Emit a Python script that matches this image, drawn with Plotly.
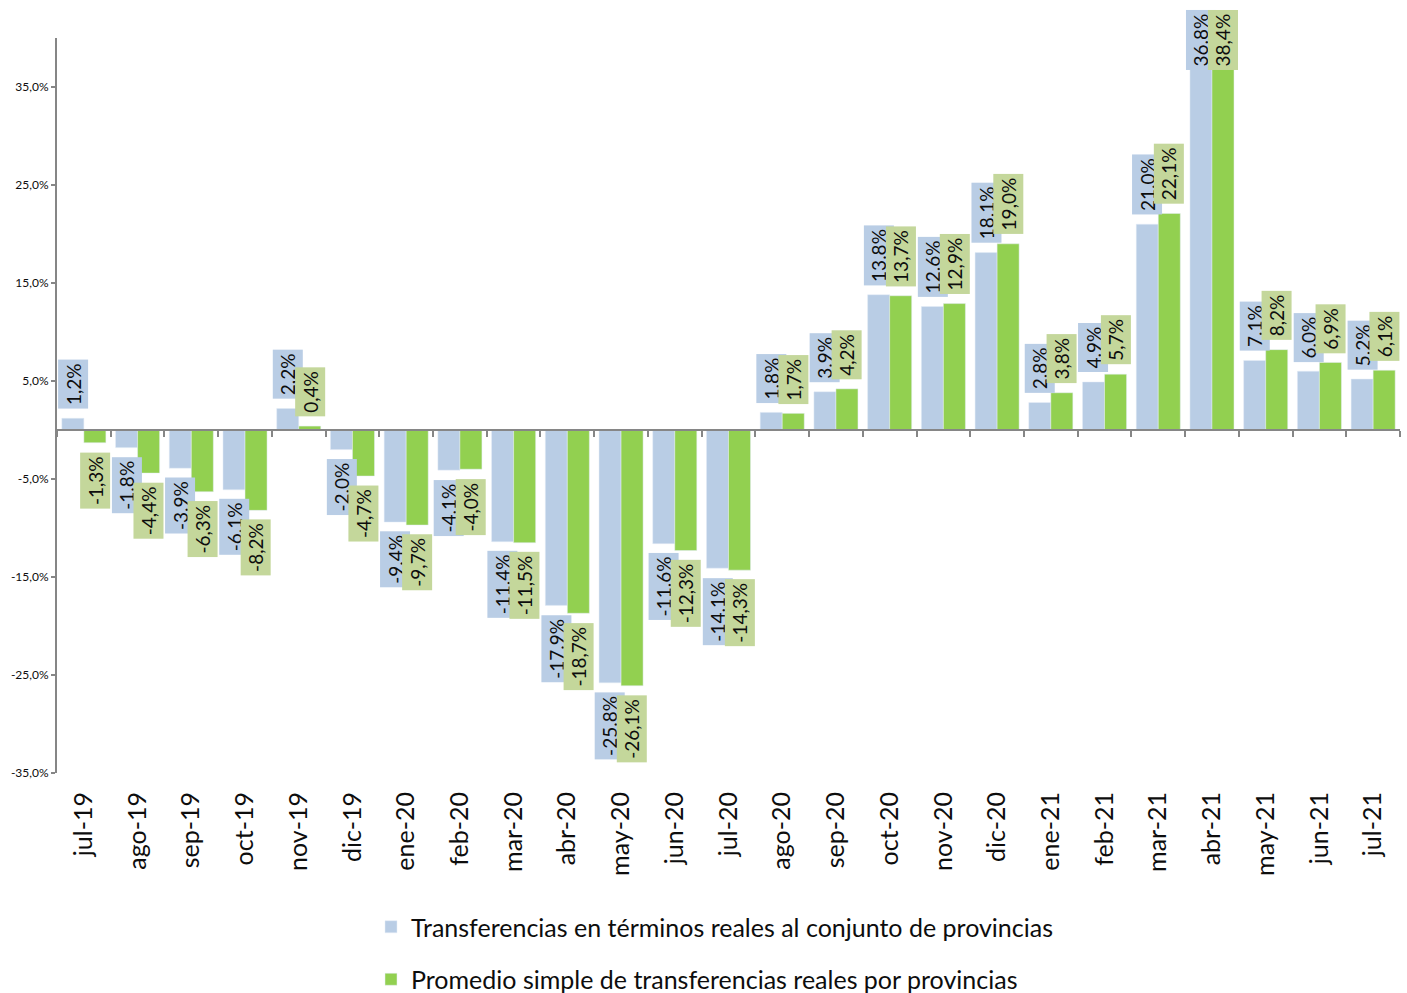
import plotly.graph_objects as go

categories = ["jul-19", "ago-19", "sep-19", "oct-19", "nov-19", "dic-19", "ene-20", "feb-20",
              "mar-20", "abr-20", "may-20", "jun-20", "jul-20", "ago-20", "sep-20", "oct-20",
              "nov-20", "dic-20", "ene-21", "feb-21", "mar-21", "abr-21", "may-21", "jun-21", "jul-21"]

total_real = [1.2, -1.8, -3.9, -6.1, 2.2, -2.0, -9.4, -4.1, -11.4, -17.9, -25.8, -11.6, -14.1,
              1.8, 3.9, 13.8, 12.6, 18.1, 2.8, 4.9, 21.0, 36.8, 7.1, 6.0, 5.2]
promedio = [-1.3, -4.4, -6.3, -8.2, 0.4, -4.7, -9.7, -4.0, -11.5, -18.7, -26.1, -12.3, -14.3,
            1.7, 4.2, 13.7, 12.9, 19.0, 3.8, 5.7, 22.1, 38.4, 8.2, 6.9, 6.1]

total_labels = ["1,2%", "-1.8%", "-3.9%", "-6.1%", "2,2%", "-2.0%", "-9.4%", "-4.1%", "-11.4%",
                "-17.9%", "-25.8%", "-11.6%", "-14.1%", "1.8%", "3.9%", "13.8%", "12.6%",
                "18.1%", "2.8%", "4.9%", "21.0%", "36.8%", "7.1%", "6.0%", "5.2%"]
promedio_labels = ["-1,3%", "-4,4%", "-6,3%", "-8,2%", "0,4%", "-4,7%", "-9,7%", "-4,0%", "-11,5%",
                   "-18,7%", "-26,1%", "-12,3%", "-14,3%", "1,7%", "4,2%", "13,7%", "12,9%",
                   "19,0%", "3,8%", "5,7%", "22,1%", "38,4%", "8,2%", "6,9%", "6,1%"]

y_tickvals = [-35, -25, -15, -5, 5, 15, 25, 35]
y_ticktext = ["-35,0%", "-25,0%", "-15,0%", "-5,0%", "5,0%", "15,0%", "25,0%", "35,0%"]

series_names = ["Transferencias en términos reales al conjunto de provincias",
                "Promedio simple de transferencias reales por provincias"]

# ---- styling / layout
W, H = 1407, 993
ML, MR, MT, MB = 57, 7, 38, 220
Y_MIN, Y_MAX = -35, 40
BARGAP = 0.18
BLUE = "#B9CDE5"
GREEN = "#92D050"
BLUE_LBL = "#B9CDE5"
GREEN_LBL = "#C4D79B"
AXIS_COL = "#868686"
TXT = "#0d0d0d"
FONT = "Lato"
LBL_SIZE = 19
LBL_PAD = 3
LBL_GAP = 9

plot_w = W - ML - MR
plot_h = H - MT - MB
px_per_unit = plot_h / (Y_MAX - Y_MIN)
cat_px = plot_w / len(categories)
bar_off = cat_px * (1 - BARGAP) / 4
chart_top_paper = 1 + (MT - 9) / plot_h      # chart-area top (labels kept inside)
top_limit = Y_MAX + (MT - 9) / px_per_unit

fig = go.Figure()
fig.add_trace(go.Bar(x=categories, y=total_real, name=series_names[0], marker_color=BLUE,
                     legendgroup="a", hoverinfo="skip"))
fig.add_trace(go.Bar(x=categories, y=promedio, name=series_names[1], marker_color=GREEN,
                     legendgroup="b", hoverinfo="skip"))
# invisible helper to draw the category axis at zero
fig.add_trace(go.Scatter(x=categories, y=[0] * len(categories), xaxis="x2", mode="markers",
                         marker=dict(opacity=0), showlegend=False, hoverinfo="skip"))


def est_len_px(t):
    w = 0
    for ch in t:
        if ch.isdigit():
            w += 0.58
        elif ch == "%":
            w += 0.83
        elif ch in ",.":
            w += 0.22
        elif ch == "-":
            w += 0.3
        else:
            w += 0.5
    return w * LBL_SIZE + 2 * LBL_PAD + 2


annotations = []
for vals, labels, sign, bg in [(total_real, total_labels, -1, BLUE_LBL),
                               (promedio, promedio_labels, 1, GREEN_LBL)]:
    for c, v, t in zip(categories, vals, labels):
        a = dict(x=c, xref="x", text=t, showarrow=False, textangle=-90,
                 bgcolor=bg, borderpad=LBL_PAD, xshift=sign * bar_off,
                 font=dict(family=FONT, size=LBL_SIZE, color=TXT))
        if v >= 0:
            top = v + (est_len_px(t) + LBL_GAP) / px_per_unit
            if top > top_limit:
                a.update(yref="paper", y=chart_top_paper, yanchor="top")
            else:
                a.update(yref="y", y=v, yanchor="bottom", yshift=LBL_GAP)
        else:
            a.update(yref="y", y=v, yanchor="top", yshift=-LBL_GAP)
        annotations.append(a)

fig.update_layout(
    width=W, height=H,
    margin=dict(l=ML, r=MR, t=MT, b=MB, autoexpand=False),
    paper_bgcolor="white", plot_bgcolor="white",
    barmode="group", bargap=BARGAP, bargroupgap=0,
    font=dict(family=FONT, color=TXT),
    showlegend=True,
    legend=dict(x=(371 - ML) / plot_w, xanchor="left", y=-(904 - (H - MB)) / plot_h,
                yanchor="top", orientation="v", traceorder="grouped", tracegroupgap=17,
                font=dict(family=FONT, size=25, color=TXT), bgcolor="rgba(0,0,0,0)"),
    xaxis=dict(type="category", categoryarray=categories, range=[-0.5, len(categories) - 0.5],
               showline=False, showgrid=False, zeroline=False, ticks="", automargin=False,
               tickangle=-90, tickfont=dict(family=FONT, size=25, color=TXT),
               ticklabelstandoff=13),
    xaxis2=dict(type="category", categoryarray=categories, range=[-0.5, len(categories) - 0.5],
                overlaying="x", anchor="free", position=(0 - Y_MIN) / (Y_MAX - Y_MIN),
                showline=True, linecolor=AXIS_COL, linewidth=2, ticks="outside",
                tickson="boundaries", ticklen=6, tickwidth=2, tickcolor=AXIS_COL,
                showticklabels=False, showgrid=False, zeroline=False, automargin=False),
    yaxis=dict(range=[Y_MIN, Y_MAX], tickvals=y_tickvals, ticktext=y_ticktext,
               showline=True, linecolor=AXIS_COL, linewidth=2, ticks="outside", ticklen=4,
               tickwidth=1.5, tickcolor=AXIS_COL, showgrid=False, zeroline=False,
               automargin=False, tickfont=dict(family=FONT, size=12, color=TXT)),
    annotations=annotations,
)

fig.write_html("out.html", config={"displayModeBar": False},
               post_script="document.body.style.margin='0px';")
